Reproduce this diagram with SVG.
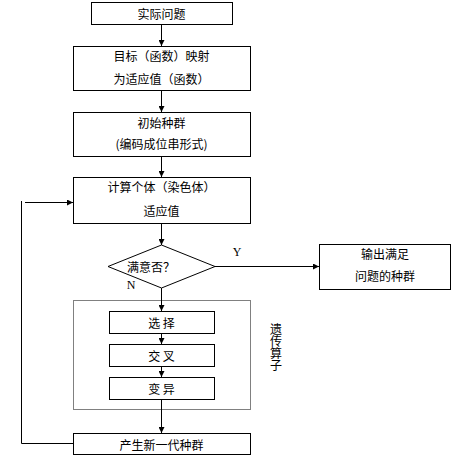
<svg xmlns="http://www.w3.org/2000/svg" width="456" height="458" viewBox="0 0 456 458">
<defs>
<marker id="ah" markerWidth="6" markerHeight="6" refX="6" refY="3" orient="auto" markerUnits="userSpaceOnUse">
<path d="M0,0 L6,3 L0,6 Z" fill="#000"/>
</marker>
</defs>
<style>
.b{fill:#fff;stroke:#000;stroke-width:1}
.t{font-family:"Noto Sans CJK SC","Liberation Sans",sans-serif;font-size:12px;fill:#000;text-anchor:middle;dominant-baseline:central}
.v{font-family:"Noto Sans CJK SC","Liberation Sans",sans-serif;font-size:12px;fill:#000;text-anchor:middle;writing-mode:vertical-rl;dominant-baseline:central}
.l{font-family:"Liberation Serif",serif;font-size:12px;fill:#000;text-anchor:middle;dominant-baseline:central}
.c{fill:none;stroke:#000;stroke-width:1}
.a{fill:none;stroke:#000;stroke-width:1;marker-end:url(#ah)}
</style>
<rect width="456" height="458" fill="#fff"/>
<g id="connectors">
<line class="a" x1="161.5" y1="24" x2="161.5" y2="46"/>
<line class="a" x1="161.5" y1="90" x2="161.5" y2="112"/>
<line class="a" x1="161.5" y1="156" x2="161.5" y2="177"/>
<line class="a" x1="161.5" y1="223" x2="161.5" y2="245"/>
<line class="a" x1="215" y1="266.5" x2="319" y2="266.5"/>
<line class="a" x1="161.5" y1="288" x2="161.5" y2="311"/>
<line class="a" x1="161.5" y1="333" x2="161.5" y2="344"/>
<line class="a" x1="161.5" y1="366" x2="161.5" y2="377"/>
<line class="a" x1="161.5" y1="399" x2="161.5" y2="433"/>
<polyline class="c" points="73,443.5 21.5,443.5 21.5,201"/>
<line class="a" x1="25" y1="202.5" x2="73" y2="202.5"/>
<text class="l" x="237" y="252">Y</text>
<text class="l" x="131" y="285">N</text>
</g>
<g id="operators">
<rect x="73.5" y="300.5" width="177" height="109" fill="none" stroke="#000" stroke-width="1" stroke-dasharray="1,1"/>
<text class="v" x="276" y="347">遗传算子</text>
</g>
<g id="n1"><rect class="b" x="91.5" y="2.5" width="141" height="22"/><text class="t" x="161.5" y="13.5">实际问题</text></g>
<g id="n2"><rect class="b" x="73.5" y="46.5" width="177" height="44"/><text class="t" x="161.5" y="55.5">目标（函数）映射</text><text class="t" x="161.5" y="78">为适应值（函数）</text></g>
<g id="n3"><rect class="b" x="73.5" y="112.5" width="177" height="44"/><text class="t" x="161.5" y="122">初始种群</text><text class="t" x="161.5" y="143.5">(编码成位串形式)</text></g>
<g id="n4"><rect class="b" x="73.5" y="177.5" width="177" height="46"/><text class="t" x="161.5" y="186.5">计算个体（染色体）</text><text class="t" x="161.5" y="210">适应值</text></g>
<g id="n5"><polygon class="b" points="161.5,245 215,266.5 161.5,288 108,266.5"/><text class="t" x="151" y="266.5">满意否？</text></g>
<g id="n6"><rect class="b" x="319.5" y="244.5" width="131" height="45"/><text class="t" x="385" y="253.5">输出满足</text><text class="t" x="385" y="275">问题的种群</text></g>
<g id="n7"><rect class="b" x="109.5" y="311.5" width="105" height="22"/><text class="t" x="161.5" y="322.5">选 择</text></g>
<g id="n8"><rect class="b" x="109.5" y="344.5" width="105" height="22"/><text class="t" x="161.5" y="355.5">交 叉</text></g>
<g id="n9"><rect class="b" x="109.5" y="377.5" width="105" height="22"/><text class="t" x="161.5" y="388.5">变 异</text></g>
<g id="n10"><rect class="b" x="73.5" y="433.5" width="177" height="21"/><text class="t" x="161.5" y="444">产生新一代种群</text></g>
</svg>
